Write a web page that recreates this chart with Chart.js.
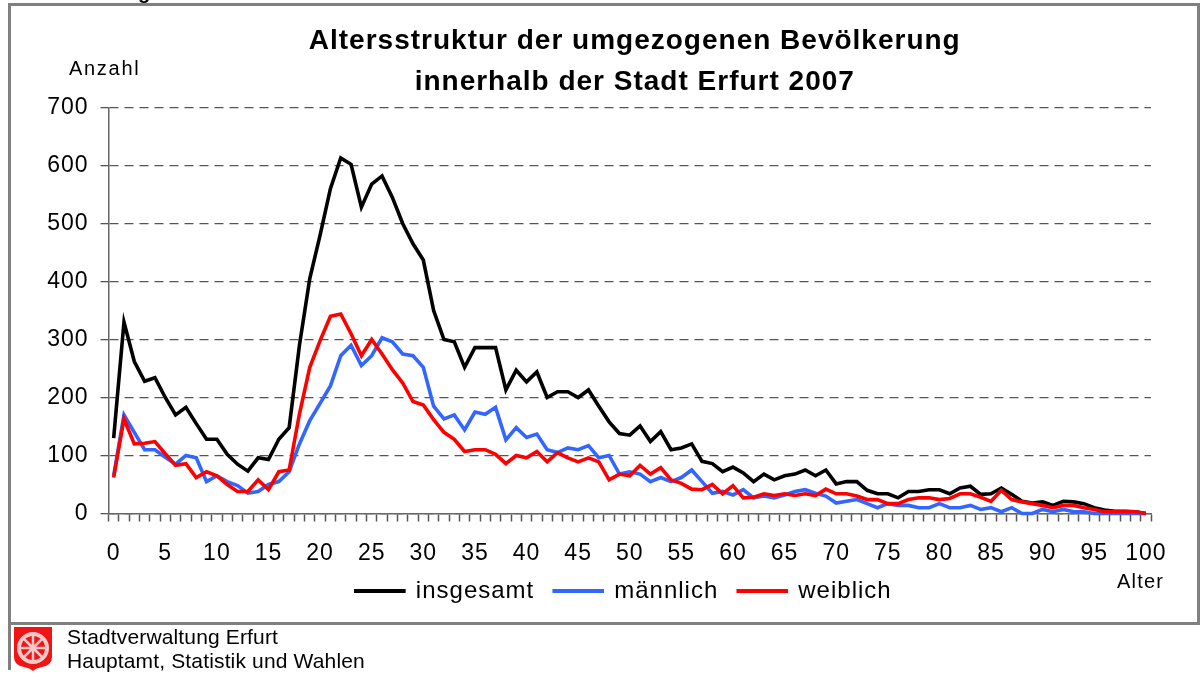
<!DOCTYPE html>
<html>
<head>
<meta charset="utf-8">
<title>Altersstruktur</title>
<script src="https://cdn.jsdelivr.net/npm/chart.js@4/dist/chart.umd.min.js"></script>
<style>
html,body{margin:0;padding:0;background:#fff;overflow:hidden}
#wrap{position:relative;width:1202px;height:673px;overflow:hidden;font-family:"Liberation Sans",Arial,sans-serif}
#graph{position:absolute;left:0;top:0}
.frame{position:absolute;background:#808080}
.note{position:absolute;color:#000;white-space:nowrap}
</style>
</head>
<body>
<div id="wrap">
<canvas id="graph" width="1202" height="673"></canvas>
<div class="note" style="left:138px;top:-19px;font-size:20px;font-weight:bold">g</div>
<div class="frame" style="left:8px;top:3px;width:1192px;height:3px"></div>
<div class="frame" style="left:8px;top:3px;width:3px;height:667px"></div>
<div class="frame" style="left:1197px;top:3px;width:3px;height:622px"></div>
<div class="frame" style="left:8px;top:622px;width:1192px;height:3px"></div>
<div class="note" style="left:69px;top:57px;font-size:20px;letter-spacing:1.7px">Anzahl</div>
<div class="note" style="left:1117px;top:570px;font-size:20px;letter-spacing:1.2px">Alter</div>
<div class="note" style="left:67px;top:625px;font-size:21px;line-height:24px;letter-spacing:.15px">Stadtverwaltung Erfurt<br>Hauptamt, Statistik und Wahlen</div>
<svg style="position:absolute;left:14px;top:627px" width="38" height="44" viewBox="0 0 38 44">
  <path d="M0 0H38V30Q38 38 28 40Q22 41 19 44Q16 41 10 40Q0 38 0 30Z" fill="#f01414"/>
  <circle cx="19" cy="21" r="14" fill="none" stroke="#f3c9c9" stroke-width="4"/>
  <circle cx="19" cy="21" r="3" fill="#f3c9c9"/>
  <path d="M19 7V35M5 21H33M9 11L29 31M29 11L9 31" stroke="#f3c9c9" stroke-width="2.5"/>
</svg>
</div>
<script>
var ages = [0,1,2,3,4,5,6,7,8,9,10,11,12,13,14,15,16,17,18,19,20,21,22,23,24,25,26,27,28,29,30,31,32,33,34,35,36,37,38,39,40,41,42,43,44,45,46,47,48,49,50,
51,52,53,54,55,56,57,58,59,60,61,62,63,64,65,66,67,68,69,70,71,72,73,74,75,76,77,78,79,80,81,82,83,84,85,86,87,88,89,90,91,92,93,94,95,96,97,98,99,100];

var insgesamt = [130,330,262,228,234,200,170,183,155,128,128,102,85,73,96,93,128,148,290,405,480,560,613,602,528,568,582,545,500,465,437,
350,300,296,252,286,286,286,213,247,227,244,200,210,210,200,213,185,158,138,135,151,124,141,110,113,120,90,86,72,80,
70,55,68,58,65,68,75,65,75,51,55,55,40,34,34,27,38,38,41,41,34,44,47,33,34,44,33,21,18,20,
14,21,20,17,10,6,4,4,3,0];

var maennlich = [65,170,140,110,110,97,85,100,96,55,65,55,48,35,38,50,55,72,120,160,190,220,272,290,255,272,303,296,275,272,252,
185,163,170,144,175,171,183,127,148,131,137,110,105,113,110,117,96,100,68,72,68,55,62,55,62,75,55,35,38,32,
41,27,30,27,32,38,41,35,30,18,21,24,17,10,17,14,14,10,10,17,10,10,14,7,10,3,10,0,0,7,
3,7,3,3,0,0,0,0,0,0];

var weiblich = [62,163,120,121,124,103,83,86,62,72,65,50,38,38,58,41,72,75,172,252,298,340,344,310,272,300,275,248,225,193,187,
162,140,128,107,110,110,102,86,100,96,107,89,105,96,89,96,89,58,68,65,83,68,79,58,52,42,41,50,34,48,
27,28,34,31,34,31,34,31,42,34,34,30,24,24,17,17,24,27,27,24,26,34,34,28,21,40,24,20,17,14,
10,14,14,10,7,3,3,3,3,0];

var titleLines = ['Altersstruktur der umgezogenen Bevölkerung','innerhalb der Stadt Erfurt 2007'];

// letter spacing of the original and the off-centre title/legend, chart.js has no option for these
var tweaks = {
    id:'tweaks',
    beforeLayout:function(chart){ chart.ctx.letterSpacing='1px'; },
    afterLayout:function(chart){
        chart.titleBlock.left += 10;
        chart.legend.left -= 12;
        // x labels sit lower than the axis box, would get clipped otherwise
        chart.scales.x.bottom += 20;
    },
    beforeDraw:function(chart){ chart.ctx.letterSpacing='1px'; }
};

var data = {
    labels: ages,
    datasets: [
        {label:'insgesamt',data:insgesamt,borderColor:'#000000',backgroundColor:'#000000',order:3},
        {label:'männlich',data:maennlich,borderColor:'#3366ff',backgroundColor:'#3366ff',order:2},
        {label:'weiblich',data:weiblich,borderColor:'#ff0000',backgroundColor:'#ff0000',order:1}
    ]
};

var options = {
    responsive:false,
    animation:false,
    layout:{padding:{top:20.5,left:30,right:51,bottom:60}},
    elements:{
        point:{radius:0},
        line:{borderWidth:3.6,tension:0,borderJoinStyle:'miter',capBezierPoints:false}
    },
    datasets:{line:{clip:false}},
    plugins:{
        title:{
            display:true,text:titleLines,color:'#000',fullSize:false,
            font:{family:'"Liberation Sans"',size:28,weight:'bold',lineHeight:1.464},
            padding:{top:0,bottom:5}
        },
        legend:{
            display:true,position:'bottom',fullSize:false,
            labels:{
                color:'#000',font:{family:'"Liberation Sans"',size:24},boxWidth:48,boxHeight:0.5,padding:20,
                sort:function(a,b){ return a.datasetIndex-b.datasetIndex; }
            }
        },
        tooltip:{enabled:false}
    },
    scales:{
        x:{
            offset:true,
            afterFit:function(s){ s.height=45.5; },
            grid:{display:true,drawOnChartArea:false,offset:true,tickLength:8,tickColor:'#555',tickWidth:1.5},
            border:{color:'#666',width:1.5},
            ticks:{
                autoSkip:false,maxRotation:0,minRotation:0,color:'#000',padding:18,
                font:{family:'"Liberation Sans"',size:23},
                callback:function(v,i){ return i%5==0 ? ages[i] : ''; }
            }
        },
        y:{
            min:0,max:700,
            afterFit:function(s){ s.width=78.5; },
            grid:{color:'#555',lineWidth:1.3,tickLength:8,tickColor:'#555',tickWidth:1.3},
            border:{color:'#666',width:1.5,dash:[9,6]},
            ticks:{stepSize:100,color:'#000',padding:12,font:{family:'"Liberation Sans"',size:23}}
        }
    }
};

var graph = new Chart(document.getElementById('graph'),{type:'line',data:data,options:options,plugins:[tweaks]});
</script>
</body>
</html>
